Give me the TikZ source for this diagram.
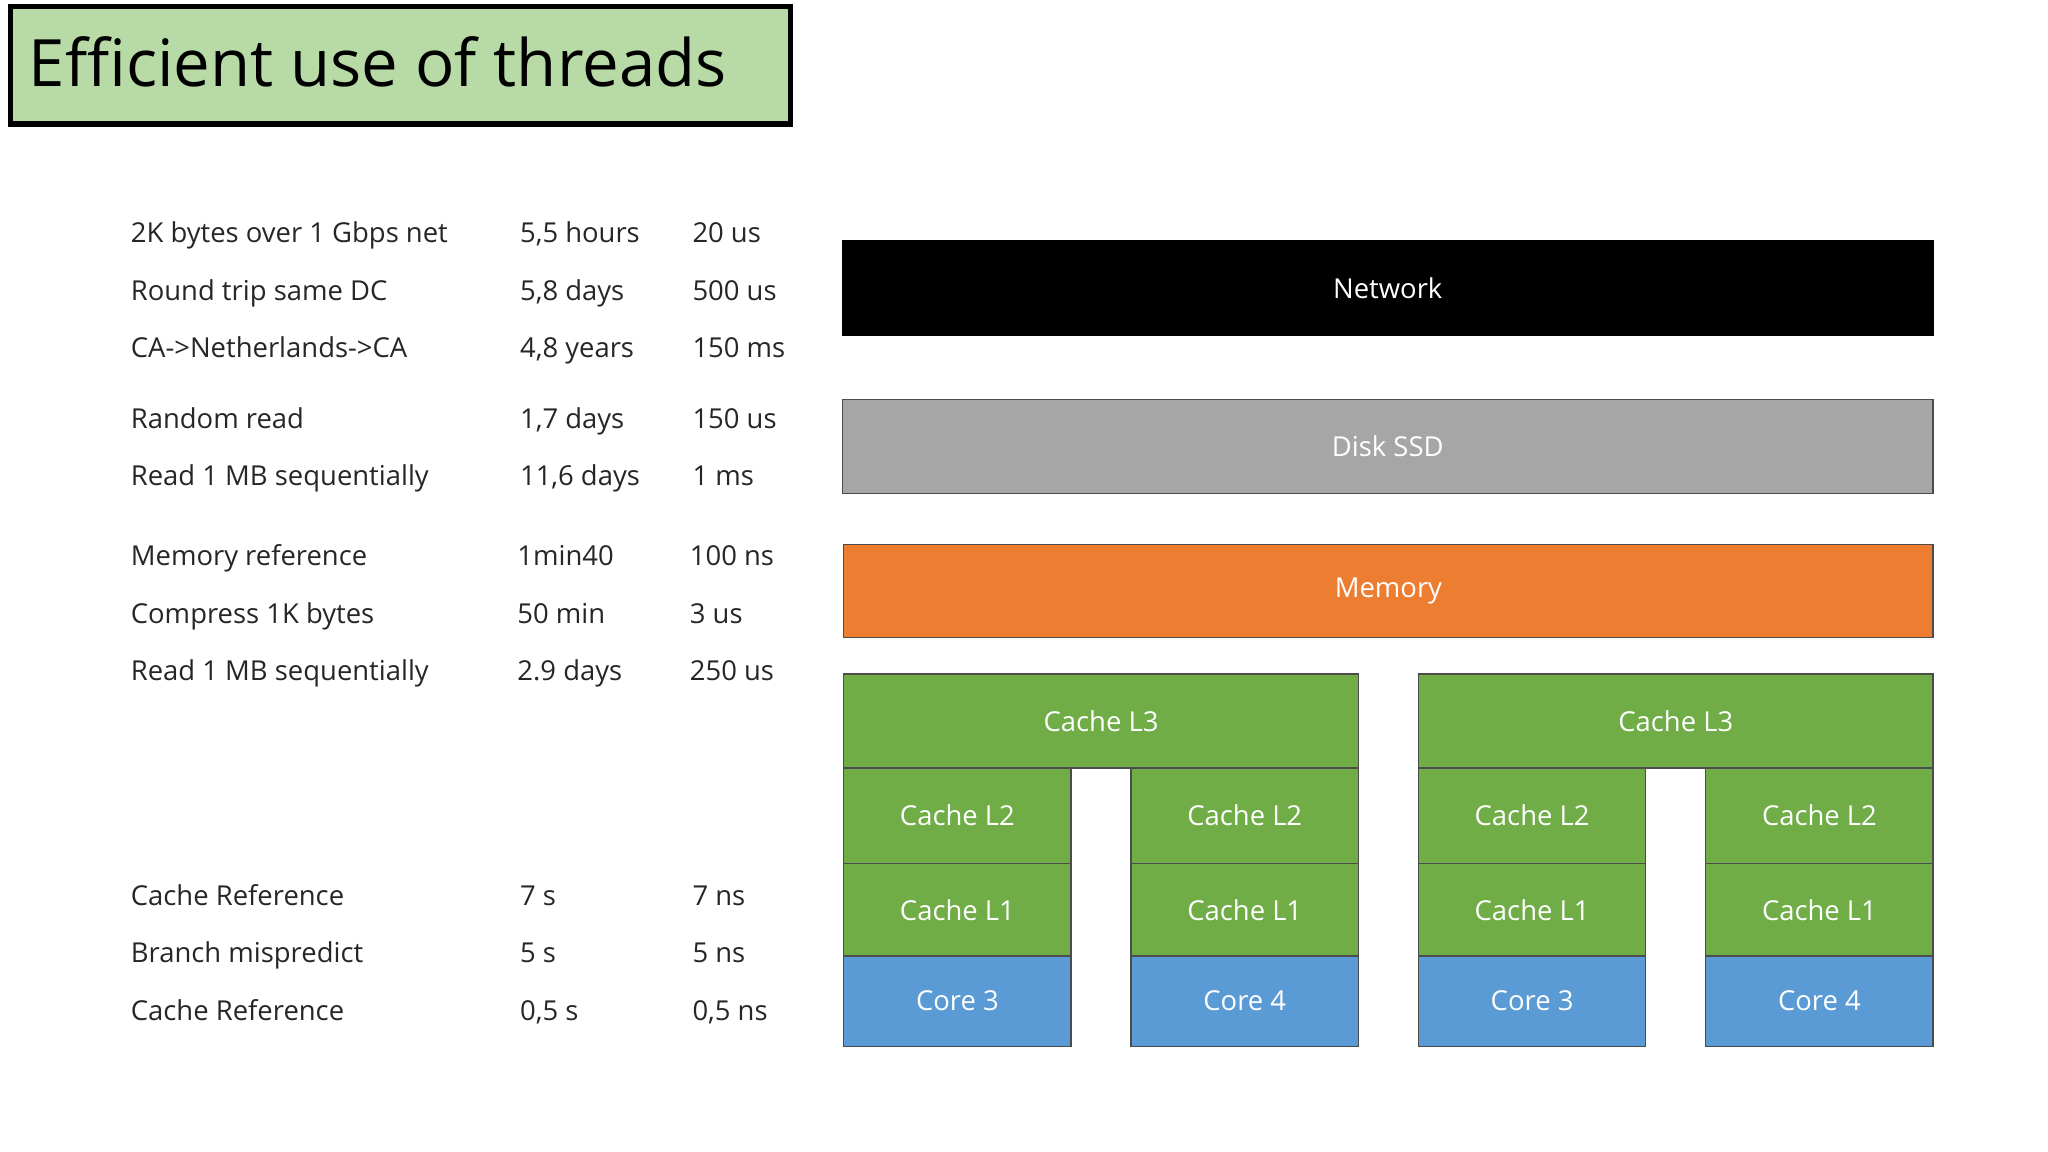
\documentclass[tikz,border=0pt]{standalone}
\usepackage{fontspec}
\setmainfont{Open Sans}
\begin{document}
\begin{tikzpicture}[x=1pt,y=-1pt,
  row/.style={anchor=base west,inner sep=0,font=\fontsize{21}{24}\selectfont,text=black!85},
  blk/.style={draw=black!70,line width=1pt,inner sep=0,outer sep=0,text=white,font=\fontsize{21}{24}\selectfont},
  grn/.style={blk,fill={rgb,255:red,112;green,173;blue,71}},
  blu/.style={blk,fill={rgb,255:red,91;green,155;blue,213}}]
\useasboundingbox (0,0) rectangle (1568,882);
\node[draw=black,line width=4pt,fill={rgb,255:red,183;green,218;blue,167},minimum width=597pt,minimum height=90pt,anchor=north west,inner sep=0] (title) at (6,3) {};
\node[anchor=base west,inner sep=0,font=\fontsize{50}{56}\selectfont] (tt) at (22,66) {Efficient use of threads};
\newcommand{\myrow}[6]{%
  \node[row] (a#1) at (100,#2) {#3};
  \node[row] (b#1) at (#6,#2) {#4};
  \node[row] (c#1) at (#6+132,#2) {#5};}
\myrow{1}{186}{2K bytes over 1 Gbps net}{5,5 hours}{20 us}{398}
\myrow{2}{230}{Round trip same DC}{5,8 days}{500 us}{398}
\myrow{3}{274}{CA->Netherlands->CA}{4,8 years}{150 ms}{398}
\myrow{4}{328}{Random read}{1,7 days}{150 us}{398}
\myrow{5}{372}{Read 1 MB sequentially}{11,6 days}{1 ms}{398}
\myrow{6}{433}{Memory reference}{1min40}{100 ns}{396}
\myrow{7}{477}{Compress 1K bytes}{50 min}{3 us}{396}
\myrow{8}{521}{Read 1 MB sequentially}{2.9 days}{250 us}{396}
\myrow{9}{693}{Cache Reference}{7 s}{7 ns}{398}
\myrow{10}{737}{Branch mispredict}{5 s}{5 ns}{398}
\myrow{11}{781}{Cache Reference}{0,5 s}{0,5 ns}{398}
\newcommand{\blkk}[7]{\node[#6,minimum width={(#4-#2)*1pt},minimum height={(#5-#3)*1pt}] (#1) at ({(#2+#4)/2},{(#3+#5)/2}) {#7};}
\blkk{net}{645}{184}{1480}{257}{blk,fill=black,draw=black}{Network}
\blkk{ssd}{645}{306}{1480}{378}{blk,fill={rgb,255:red,166;green,166;blue,166}}{Disk SSD}
\blkk{mem}{646}{417}{1480}{488}{blk,fill={rgb,255:red,237;green,125;blue,49}}{Memory}
\blkk{l3a}{646}{516}{1040}{588}{grn}{Cache L3}
\blkk{l3b}{1086}{516}{1480}{588}{grn}{Cache L3}
\foreach \n/\x in {a/646,b/866,c/1086,d/1306}{
  \pgfmathtruncatemacro{\xe}{\x+174}
  \blkk{l2\n}{\x}{588}{\xe}{661}{grn}{Cache L2}
  \blkk{l1\n}{\x}{661}{\xe}{732}{grn}{Cache L1}
}
\blkk{ca}{646}{732}{820}{801}{blu}{Core 3}
\blkk{cb}{866}{732}{1040}{801}{blu}{Core 4}
\blkk{cc}{1086}{732}{1260}{801}{blu}{Core 3}
\blkk{cd}{1306}{732}{1480}{801}{blu}{Core 4}
\end{tikzpicture}
\end{document}
